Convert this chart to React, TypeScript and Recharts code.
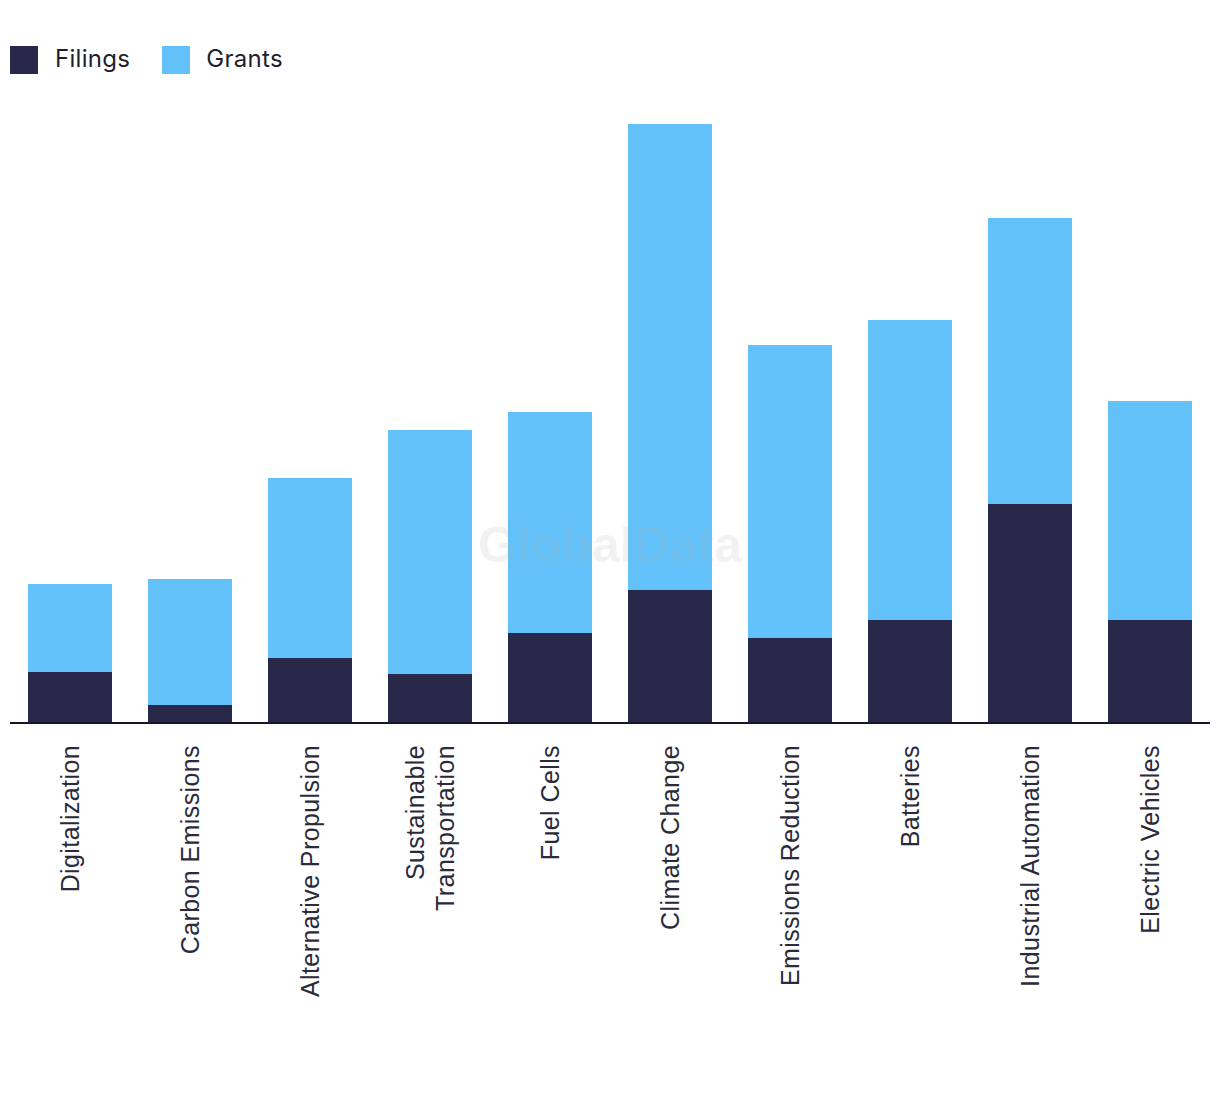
import React from "react";
import { BarChart, Bar, XAxis, YAxis } from "recharts";

const categories = [
  "Digitalization",
  "Carbon Emissions",
  "Alternative Propulsion",
  "Sustainable Transportation",
  "Fuel Cells",
  "Climate Change",
  "Emissions Reduction",
  "Batteries",
  "Industrial Automation",
  "Electric Vehicles",
];
const filings = [51, 18, 65, 49, 90, 133, 85, 103, 219, 103];
const grants = [88, 126, 180, 244, 221, 466, 293, 300, 286, 219];
const tickLines: Record<string, string[]> = {
  "Sustainable Transportation": ["Sustainable", "Transportation"],
};

const data = categories.map((c, i) => ({ name: c, filings: filings[i], grants: grants[i] }));

const DARK = "#27284A";
const LIGHT = "#62C1F9";
const FONT = "'Liberation Sans', Arial, sans-serif";

const Tick = (props: any) => {
  const { x, y, payload } = props;
  const lines = tickLines[payload.value] || [payload.value];
  const lh = 30;
  const start = -((lines.length - 1) * lh) / 2;
  return (
    <g transform={`translate(${x},${y + 14}) rotate(-90)`}>
      {lines.map((l, i) => (
        <text
          key={i}
          x={0}
          y={start + i * lh}
          textAnchor="end"
          dominantBaseline="central"
          fontFamily={FONT}
          fontSize={25}
          letterSpacing={0.4}
          fill="#2a2a3a"
        >
          {l}
        </text>
      ))}
    </g>
  );
};

export default function App() {
  return (
    <div style={{ position: "absolute", left: 0, top: 0, width: 1220, height: 1094, background: "#fff" }}>
      <div style={{ position: "absolute", left: 10, top: 46, height: 28, display: "flex", alignItems: "center", fontFamily: "Inter, 'Open Sans', sans-serif", fontSize: 24, letterSpacing: 0.3, color: "#1e1e30" }}>
        <span style={{ width: 28, height: 28, background: DARK, display: "inline-block" }} />
        <span style={{ marginLeft: 17, marginTop: -4 }}>Filings</span>
        <span style={{ width: 28, height: 28, background: LIGHT, display: "inline-block", marginLeft: 32 }} />
        <span style={{ marginLeft: 16, marginTop: -4 }}>Grants</span>
      </div>
      <BarChart
        width={1220}
        height={1094}
        data={data}
        margin={{ top: 123, right: 10, left: 10, bottom: 0 }}
        barCategoryGap="15%"
      >
        <YAxis hide domain={[0, 600]} />
        <XAxis
          dataKey="name"
          height={371}
          interval={0}
          tickLine={false}
          axisLine={{ stroke: "#15152a", strokeWidth: 2 }}
          tick={<Tick />}
        />
        <Bar dataKey="filings" stackId="a" fill={DARK} isAnimationActive={false} />
        <Bar dataKey="grants" stackId="a" fill={LIGHT} isAnimationActive={false} />
      </BarChart>
      <div
        style={{
          position: "absolute",
          left: 0,
          width: 1220,
          top: 516,
          textAlign: "center",
          fontFamily: FONT,
          fontWeight: 700,
          fontSize: 50,
          color: "rgba(176,176,176,0.16)",
          pointerEvents: "none",
        }}
      >
        GlobalData
      </div>
    </div>
  );
}
